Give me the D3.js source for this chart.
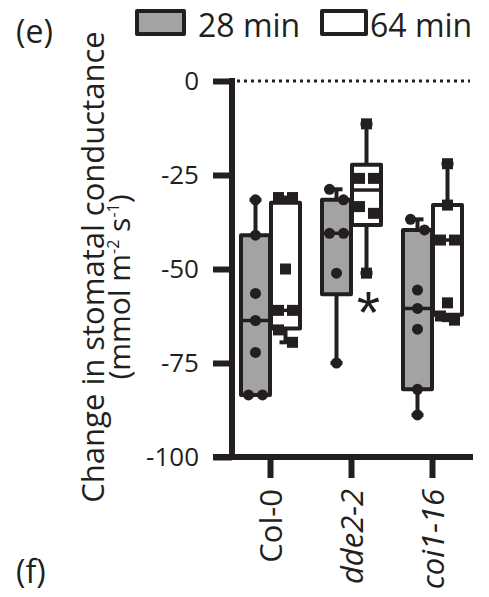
<!DOCTYPE html>
<html>
<head>
<meta charset="utf-8">
<script src="https://cdn.jsdelivr.net/npm/d3@7"></script>
<style>
  body { margin: 0; background: #fff; }
  text { font-family: "Open Sans", sans-serif; fill: #231f20; }
</style>
</head>
<body>
<svg id="chart" width="489" height="597"></svg>
<script>
// data ----------------------------------------
var genotypes = ["Col-0", "dde2-2", "coi1-16"];
var times = ["28 min", "64 min"];
var yTicks = [0, -25, -50, -75, -100];

// box summaries: [min, q1, median, q3, max]
var box28 = [
  [-83.5, -83.5, -63.7, -41.0, -31.6],
  [-75.0, -56.7, -40.5, -31.6, -28.8],
  [-88.8, -82.0, -60.5, -39.6, -36.8]
];
var box64 = [
  [-69.5, -65.8, -61.0, -32.4, -31.0],
  [-51.1, -38.3, -29.0, -22.3, -11.4],
  [-63.6, -62.2, -42.3, -33.0, -22.0]
];

// individual replicates
var pts28 = [
  [-31.6, -41.0, -56.5, -63.7, -72.2, -83.5, -83.5],
  [-28.8, -31.6, -40.5, -40.5, -51.1, -75.0],
  [-36.8, -39.6, -55.6, -60.5, -66.0, -82.0, -88.8]
];
var pts64 = [
  [-31.0, -31.0, -50.0, -61.0, -61.0, -66.2, -69.5],
  [-11.4, -25.9, -25.9, -33.4, -35.2, -51.1],
  [-22.0, -33.0, -42.3, -42.3, -59.0, -62.5, -63.6]
];
var signif = ["", "*", ""]; // 64 min vs Col-0

// layout ----------------------------------------
var svg = d3.select("#chart");
var ink = "#231f20";
var grey = "#a3a3a3";

var y = d3.scaleLinear().domain([-100, 0]).range([457, 81]);
var x = d3.scaleBand().domain(genotypes).range([230, 473]);
var xSub = d3.scaleBand().domain(times).range([-30, 30]);
var boxW = 29;

// spread overlapping replicates sideways (Prism-style scatter)
function spread(vals) {
  var sorted = vals.slice().sort(function(a, b) { return b - a; });
  var out = [], group = [sorted[0]];
  function flush() {
    var n = group.length;
    group.forEach(function(v, k) {
      out.push({ v: v, dx: n === 1 ? 0 : (k - (n - 1) / 2) * 14 });
    });
  }
  for (var i = 1; i < sorted.length; i++) {
    if (group[group.length - 1] - sorted[i] < 3.5) group.push(sorted[i]);
    else { flush(); group = [sorted[i]]; }
  }
  flush();
  return out;
}

var sets = [];
genotypes.forEach(function(g, i) {
  sets.push({ g: g, t: times[0], box: box28[i], pts: pts28[i], fill: grey, shape: "circle" });
  sets.push({ g: g, t: times[1], box: box64[i], pts: pts64[i], fill: "#fff", shape: "square" });
});

// zero reference line
svg.append("line")
  .attr("x1", 237).attr("x2", 470)
  .attr("y1", y(0)).attr("y2", y(0))
  .attr("stroke", ink).attr("stroke-width", 3)
  .attr("stroke-dasharray", "3,4");

// boxes ----------------------------------------
var boxes = svg.append("g").selectAll("g").data(sets).enter().append("g")
  .attr("transform", function(d) { return "translate(" + (x(d.g) + x.bandwidth() / 2 + xSub(d.t) + xSub.bandwidth() / 2) + ",0)"; });

boxes.append("line")
  .attr("y1", function(d) { return y(d.box[0]); })
  .attr("y2", function(d) { return y(d.box[4]); })
  .attr("stroke", ink).attr("stroke-width", 4);

boxes.selectAll(".cap").data(function(d) { return [d.box[0], d.box[4]]; }).enter().append("line")
  .attr("x1", -6).attr("x2", 6)
  .attr("y1", function(v) { return y(v); }).attr("y2", function(v) { return y(v); })
  .attr("stroke", ink).attr("stroke-width", 4);

boxes.append("rect")
  .attr("x", -boxW / 2).attr("width", boxW)
  .attr("y", function(d) { return y(d.box[3]); })
  .attr("height", function(d) { return y(d.box[1]) - y(d.box[3]); })
  .attr("fill", function(d) { return d.fill; })
  .attr("stroke", ink).attr("stroke-width", 4)
  .attr("stroke-linejoin", "round");

boxes.append("line")
  .attr("x1", -boxW / 2).attr("x2", boxW / 2)
  .attr("y1", function(d) { return y(d.box[2]); })
  .attr("y2", function(d) { return y(d.box[2]); })
  .attr("stroke", ink).attr("stroke-width", 3.5);

// points ----------------------------------------
boxes.each(function(d) {
  var p = d3.select(this).selectAll(".pt").data(spread(d.pts)).enter();
  if (d.shape === "circle") {
    p.append("circle")
      .attr("cx", function(q) { return q.dx; })
      .attr("cy", function(q) { return y(q.v); })
      .attr("r", 5.5).attr("fill", ink);
  } else {
    p.append("rect")
      .attr("x", function(q) { return q.dx - 5.5; })
      .attr("y", function(q) { return y(q.v) - 5.5; })
      .attr("width", 11).attr("height", 11).attr("fill", ink);
  }
});

// significance
svg.selectAll(".sig").data(genotypes).enter().append("text")
  .attr("x", function(g) { return x(g) + x.bandwidth() / 2 + xSub(times[1]) + xSub.bandwidth() / 2 + 2; })
  .attr("y", function(g, i) { return y(box64[i][0]) + 60; })
  .attr("text-anchor", "middle")
  .style("font-family", "'Liberation Sans', sans-serif")
  .style("font-size", "60px")
  .text(function(g, i) { return signif[i]; });

// axes ----------------------------------------
var yAxis = svg.append("g")
  .attr("transform", "translate(232,0)")
  .call(d3.axisLeft(y).tickValues(yTicks).tickSize(19).tickPadding(14)
    .tickFormat(function(d) { return String(d); }));
yAxis.select(".domain").attr("stroke", ink).attr("stroke-width", 6)
  .attr("d", "M0," + (y(0) - 3) + "V" + (y(-100) + 3));
yAxis.selectAll(".tick line").attr("stroke", ink).attr("stroke-width", 6);
yAxis.selectAll(".tick text").attr("fill", ink)
  .style("font-family", "'Open Sans', sans-serif").style("font-size", "26px");

var xAxis = svg.append("g")
  .attr("transform", "translate(0," + y(-100) + ")")
  .call(d3.axisBottom(x).tickSize(21).tickFormat(""));
xAxis.select(".domain").attr("stroke", ink).attr("stroke-width", 6)
  .attr("d", "M213,0H473");
xAxis.selectAll(".tick line").attr("stroke", ink).attr("stroke-width", 6);

svg.selectAll(".xlab").data(genotypes).enter().append("text")
  .attr("transform", function(g) { return "translate(" + (x(g) + x.bandwidth() / 2 + 11) + ",489) rotate(-90)"; })
  .attr("text-anchor", "end")
  .style("font-size", "31px")
  .style("font-style", function(g, i) { return i === 0 ? "normal" : "italic"; })
  .text(function(g) { return g; });

// axis title
svg.append("text")
  .attr("transform", "translate(104,267) rotate(-90)")
  .attr("text-anchor", "middle")
  .style("font-size", "31px")
  .text("Change in stomatal conductance");
var unit = svg.append("text")
  .attr("transform", "translate(130,287) rotate(-90)")
  .attr("text-anchor", "middle")
  .style("font-size", "30px");
unit.append("tspan").text("(mmol m");
unit.append("tspan").attr("dy", -11).style("font-size", "16px").text("-2");
unit.append("tspan").attr("dy", 11).text(" s");
unit.append("tspan").attr("dy", -11).style("font-size", "16px").text("-1");
unit.append("tspan").attr("dy", 11).text(")");

// legend ----------------------------------------
var legX = [137, 322];
var legTextX = [198, 370];
var leg = svg.selectAll(".leg").data(times).enter().append("g");
leg.append("rect")
  .attr("x", function(t, i) { return legX[i]; }).attr("y", 11)
  .attr("width", function(t, i) { return i === 0 ? 47 : 44; }).attr("height", 23)
  .attr("fill", function(t, i) { return i === 0 ? grey : "#fff"; })
  .attr("stroke", ink).attr("stroke-width", 4).attr("stroke-linejoin", "round");
leg.append("text")
  .attr("x", function(t, i) { return legTextX[i]; }).attr("y", 37)
  .style("font-size", "32px")
  .text(function(t) { return t; });

// panel letters
svg.append("text").attr("x", 16).attr("y", 43).style("font-size", "32px").text("(e)");
svg.append("text").attr("x", 16).attr("y", 583).style("font-size", "32px").text("(f)");
</script>
</body>
</html>
